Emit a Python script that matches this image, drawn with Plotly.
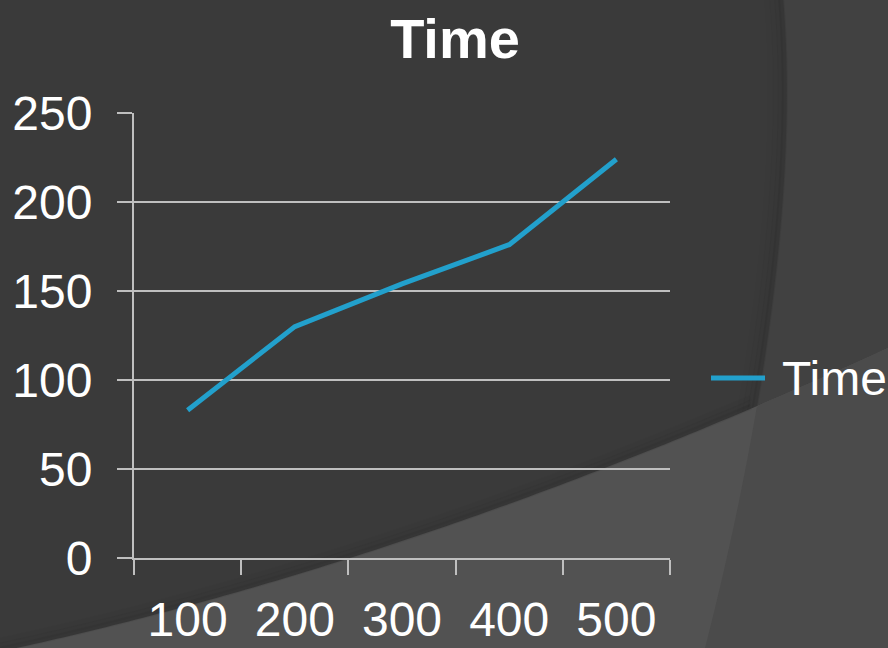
import numpy as np
import plotly.graph_objects as go

# Series data
categories = ["100", "200", "300", "400", "500"]
time_values = [83, 130, 154, 176, 224]
series_name = "Time"
chart_title = "Time"

W, H = 888, 648
ML, MR, MT, MB = 134, 218, 113, 90
PW, PH = W - ML - MR, H - MT - MB

BG = "#3a3a3a"
GRID = "#bfbfbf"
LINE = "#22a0cc"
FONT = "Liberation Sans, Arial, sans-serif"


def to_paper(x, y):
    return (x - ML) / PW, (H - MB - y) / PH


def bezier(p, n=120):
    t = np.linspace(0, 1, n)[:, None]
    p = [np.array(q, float) for q in p]
    if len(p) == 3:
        return (1 - t) ** 2 * p[0] + 2 * (1 - t) * t * p[1] + t ** 2 * p[2]
    return ((1 - t) ** 3 * p[0] + 3 * (1 - t) ** 2 * t * p[1]
            + 3 * (1 - t) * t ** 2 * p[2] + t ** 3 * p[3])


def path(points, close=True):
    segs = []
    for i, (x, y) in enumerate(points):
        px, py = to_paper(x, y)
        segs.append(("M" if i == 0 else "L") + f"{px:.5f},{py:.5f}")
    return " ".join(segs) + (" Z" if close else "")


# Decorative background curves (pixel space)
lower = bezier([(-2, 652), (427, 560), (890, 347)])
arc = bezier([(783, -2), (800, 200), (756, 450), (704, 652)])


def arc_x(y):
    return np.interp(y, arc[:, 1], arc[:, 0])


def lower_y(x):
    return np.interp(x, lower[:, 0], lower[:, 1])


right_region = [tuple(p) for p in arc] + [(892, 652), (892, -2)]
lower_region = [tuple(p) for p in lower] + [(892, 652), (-2, 652)]
low_pts = [tuple(p) for p in lower if p[0] >= arc_x(p[1])]
arc_pts = [tuple(p) for p in arc[::-1] if p[1] >= lower_y(p[0])]
corner_region = low_pts + [(892, 652)] + arc_pts

common = dict(layer="below", xref="paper", yref="paper")
shapes = [dict(type="path", path=path(right_region), fillcolor="#414141",
               line=dict(width=0), **common)]
# soft shadow along the curved edges
for off, op in [(2, 0.06), (6, 0.04), (11, 0.025), (16, 0.015)]:
    shapes.append(dict(type="path",
                       path=path([(x - off, y) for x, y in arc], close=False),
                       line=dict(color=f"rgba(0,0,0,{op})", width=6), **common))
shapes.append(dict(type="path", path=path(lower_region), fillcolor="#525252",
                   line=dict(width=0), **common))
shapes.append(dict(type="path", path=path(corner_region), fillcolor="#4b4b4b",
                   line=dict(width=0), **common))
for off, op in [(2, 0.06), (6, 0.035), (11, 0.02)]:
    shapes.append(dict(type="path",
                       path=path([(x, y - off) for x, y in lower if x < arc_x(y) - 4], close=False),
                       line=dict(color=f"rgba(0,0,0,{op})", width=6), **common))

# Legend key: line swatch plus label, to the right of the plot
LEG_Y = 378
lx0, ly = to_paper(711, LEG_Y)
lx1, _ = to_paper(765, LEG_Y)
shapes.append(dict(type="line", x0=lx0, x1=lx1, y0=ly, y1=ly,
                   xref="paper", yref="paper", layer="above",
                   line=dict(color=LINE, width=5)))
tx, _ = to_paper(780, LEG_Y)

fig = go.Figure()
fig.add_trace(go.Scatter(
    x=categories, y=time_values, mode="lines", name=series_name,
    line=dict(color=LINE, width=5), showlegend=False,
))

fig.add_annotation(text=series_name, x=tx, y=ly, xref="paper", yref="paper",
                   xanchor="left", yanchor="middle", showarrow=False,
                   font=dict(size=48, color="white", family=FONT))

fig.update_layout(
    width=W, height=H,
    margin=dict(l=ML, r=MR, t=MT, b=MB, pad=0, autoexpand=False),
    paper_bgcolor=BG, plot_bgcolor="rgba(0,0,0,0)",
    font=dict(family=FONT, color="white", size=48),
    title=dict(text=f"<b>{chart_title}</b>", x=455 / W, xref="container",
               xanchor="center", y=1 - 38 / H, yref="container", yanchor="middle",
               font=dict(size=56, color="white", family=FONT)),
    shapes=shapes,
    showlegend=False,
    xaxis=dict(type="category", categoryorder="array", categoryarray=categories,
               range=[-0.5, len(categories) - 0.5], automargin=False,
               tickson="boundaries", ticks="outside", ticklen=15, tickwidth=2,
               tickcolor=GRID, showline=True, linecolor=GRID, linewidth=2,
               showgrid=False, zeroline=False, ticklabelstandoff=18,
               tickfont=dict(size=48, color="white")),
    yaxis=dict(range=[0, 250], dtick=50, tick0=0, ticks="outside", ticklen=15,
               tickwidth=2, tickcolor=GRID, showline=True, linecolor=GRID,
               linewidth=2, showgrid=True, gridcolor=GRID, gridwidth=2,
               zeroline=False, ticklabelstandoff=15, automargin=False,
               tickfont=dict(size=48, color="white")),
)

fig.write_html("out.html")
